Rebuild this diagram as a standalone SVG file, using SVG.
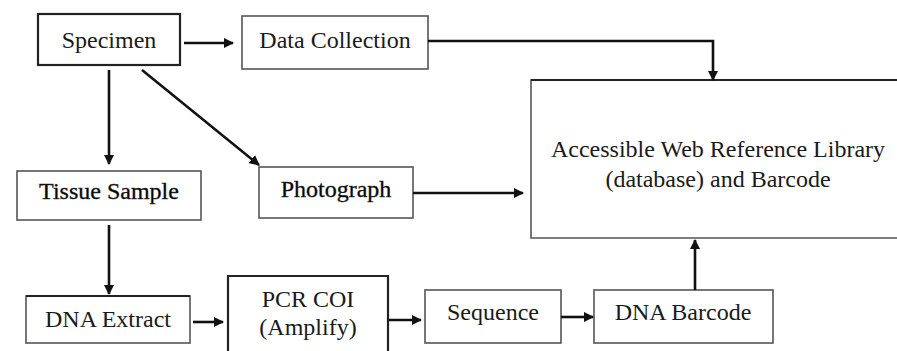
<svg xmlns="http://www.w3.org/2000/svg" width="897" height="351" viewBox="0 0 897 351">
  <style>
    .box { fill: #ffffff; stroke: #555555; stroke-width: 1.6; }
    .box-dark { fill: #ffffff; stroke: #222222; stroke-width: 2.2; }
    .label { font-family: "Liberation Serif", "DejaVu Serif", "Times New Roman", Times, serif; font-size: 24px; fill: #1a1a1a; text-anchor: middle; }
    .strong { fill: #000000; stroke: #333333; stroke-width: 0.4; }
    .edge { fill: none; stroke: #111111; stroke-width: 2.6; marker-end: url(#arrow); }
  </style>
  <defs>
    <marker id="arrow" viewBox="0 0 10 10" refX="9" refY="5" markerWidth="4" markerHeight="4" orient="auto" markerUnits="strokeWidth">
      <path d="M0,0 L10,5 L0,10 z" fill="#111111"/>
    </marker>
  </defs>
  <rect width="897" height="351" fill="#ffffff"/>

  <g id="specimen">
    <rect class="box-dark" x="38" y="14" width="142" height="51"/>
    <text class="label" x="109" y="48">Specimen</text>
  </g>
  <g id="data-collection">
    <rect class="box" x="242" y="16" width="186" height="53"/>
    <text class="label" x="335" y="48">Data Collection</text>
  </g>
  <g id="library">
    <path class="box" d="M900,80 H531 V238 H900"/>
    <path d="M531,80 H900" stroke="#222222" stroke-width="2.2" fill="none"/>
    <text class="label" x="718" y="157">Accessible Web Reference Library</text>
    <text class="label" x="718" y="187">(database) and Barcode</text>
  </g>
  <g id="tissue-sample">
    <rect class="box" x="17" y="171" width="184" height="49"/>
    <text class="label strong" x="109" y="199">Tissue Sample</text>
  </g>
  <g id="photograph">
    <rect class="box" x="259" y="167" width="154" height="51"/>
    <text class="label strong" x="336" y="197">Photograph</text>
  </g>
  <g id="dna-extract">
    <rect class="box" x="26" y="296" width="164" height="47"/>
    <path d="M26,296 H190" stroke="#222222" stroke-width="2" fill="none"/>
    <text class="label" x="108" y="327">DNA Extract</text>
  </g>
  <g id="pcr-coi">
    <path class="box-dark" d="M228,355 V276 H388 V355"/>
    <text class="label" x="308" y="307">PCR COI</text>
    <text class="label" x="308" y="335">(Amplify)</text>
  </g>
  <g id="sequence">
    <rect class="box" x="425" y="290" width="136" height="53"/>
    <text class="label" x="493" y="320">Sequence</text>
  </g>
  <g id="dna-barcode">
    <rect class="box" x="594" y="290" width="179" height="53"/>
    <text class="label" x="683" y="320">DNA Barcode</text>
  </g>

  <g id="connectors">
    <path class="edge" d="M184,43 H233"/>
    <path class="edge" d="M428,41 H713 V80"/>
    <path class="edge" d="M109,70 V164"/>
    <path class="edge" d="M142,70 L259,165"/>
    <path class="edge" d="M413,193 H523"/>
    <path class="edge" d="M109,225 V294"/>
    <path class="edge" d="M193,322 H223"/>
    <path class="edge" d="M388,320 H421"/>
    <path class="edge" d="M561,317 H593"/>
    <path class="edge" d="M695,290 V240"/>
  </g>
</svg>
